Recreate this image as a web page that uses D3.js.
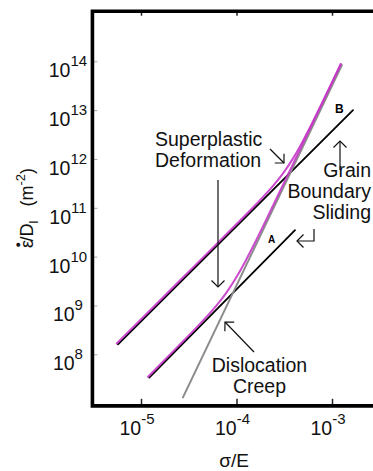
<!DOCTYPE html>
<html>
<head>
<meta charset="utf-8">
<script src="https://cdn.jsdelivr.net/npm/d3@7"></script>
<style>
  html, body { margin: 0; padding: 0; background: #fff; }
  svg { display: block; font-family: "Liberation Sans", Arial, sans-serif; }
</style>
</head>
<body>
<svg id="chart" width="373" height="471"></svg>
<script>
// Decade ticks on both axes
const xTickValues = [1e-5, 1e-4, 1e-3];
const xTickExponents = ["-5", "-4", "-3"];
const yTickValues = [1e8, 1e9, 1e10, 1e11, 1e12, 1e13, 1e14];
const yTickExponents = ["8", "9", "10", "11", "12", "13", "14"];

// Grain boundary sliding, line B (fine grains) and line A (coarse grains)
const gbsB_x = [5.74e-6, 1.66e-3];
const gbsB_y = [1.60e8, 1.0e13];
const gbsA_x = [1.22e-5, 4.10e-4];
const gbsA_y = [3.33e7, 3.48e10];

// Dislocation creep
const creep_x = [2.75e-5, 1.27e-3];
const creep_y = [1.31e7, 8.36e13];

// Superplastic deformation: combined rate for each grain size
const superB_x = [5.74e-6, 1.585e-5, 3.98e-5, 1.0e-4, 1.585e-4, 2.51e-4, 3.16e-4, 3.98e-4, 5.01e-4, 6.31e-4, 7.94e-4, 1.0e-3, 1.27e-3];
const superB_y = [1.60e8, 1.159e9, 6.97e9, 4.20e10, 1.042e11, 2.75e11, 4.85e11, 9.51e11, 2.09e12, 4.98e12, 1.239e13, 3.13e13, 8.38e13];
const superA_x = [1.22e-5, 2.51e-5, 3.98e-5, 5.01e-5, 6.31e-5, 7.94e-5, 1.0e-4, 1.26e-4, 1.585e-4, 2.51e-4, 3.98e-4, 6.31e-4, 1.0e-3, 1.27e-3];
const superA_y = [3.33e7, 1.39e8, 3.50e8, 5.65e8, 9.42e8, 1.679e9, 3.33e9, 7.36e9, 1.758e10, 1.109e11, 7.24e11, 4.74e12, 3.11e13, 8.36e13];

// Plot frame extents in data units
const xFrame = [3.1e-6, 4.2e-3];
const yFrame = [8.8e6, 1.06e15];

const svg = d3.select("#chart");

const x = d3.scaleLog().domain([1e-5, 1e-3]).range([141, 332]);
const y = d3.scaleLog().domain([1e8, 1e14]).range([354.3, 61.3]);

const xL = x(xFrame[0]), xR = x(xFrame[1]);
const yB = y(yFrame[0]), yT = y(yFrame[1]);

const zip = (a, b) => a.map((v, i) => [v, b[i]]);
const straight = d3.line().x(d => x(d[0])).y(d => y(d[1]));
const smooth = d3.line().x(d => x(d[0])).y(d => y(d[1])).curve(d3.curveMonotoneX);

// Mechanism lines
const lines = svg.append("g").attr("fill", "none").attr("stroke-linecap", "round");
lines.append("path").attr("d", straight(zip(gbsB_x, gbsB_y))).attr("stroke", "#000").attr("stroke-width", 1.8);
lines.append("path").attr("d", straight(zip(gbsA_x, gbsA_y))).attr("stroke", "#000").attr("stroke-width", 1.8);
lines.append("path").attr("d", straight(zip(creep_x, creep_y))).attr("stroke", "#8c8c8c").attr("stroke-width", 2);

// Superplastic curves on top
const sp = lines.append("g").attr("transform", "translate(-1.2,-0.9)");
sp.append("path").attr("d", smooth(zip(superB_x, superB_y))).attr("stroke", "#c636c8").attr("stroke-width", 2).attr("opacity", 0.9);
sp.append("path").attr("d", smooth(zip(superA_x, superA_y))).attr("stroke", "#c636c8").attr("stroke-width", 2).attr("opacity", 0.9);

// Axes
function styleAxis(g) {
  g.attr("font-family", null).attr("font-size", null);
  g.select(".domain").remove();
}

const gLeft = svg.append("g").attr("transform", `translate(${xL},0)`)
  .call(d3.axisLeft(y).tickValues(yTickValues).tickSizeInner(-5).tickSizeOuter(0).tickFormat(""))
  .call(styleAxis);
gLeft.selectAll(".tick line").attr("stroke", "#aaa").attr("stroke-width", 1);
gLeft.selectAll(".tick text").each(function (d, i) {
  const t = d3.select(this).attr("x", -24.5).attr("y", 15.5).attr("dy", null)
    .attr("text-anchor", "middle").attr("font-size", 19.5).attr("fill", "#111").text(null);
  t.append("tspan").text("10");
  t.append("tspan").attr("dy", -11).attr("font-size", 15).text(yTickExponents[i]);
});

const gBottom = svg.append("g").attr("transform", `translate(0,${yB})`)
  .call(d3.axisBottom(x).tickValues(xTickValues).tickSizeInner(-7).tickSizeOuter(0).tickFormat(""))
  .call(styleAxis);
gBottom.selectAll(".tick line").attr("stroke", "#222").attr("stroke-width", 1.5);
gBottom.selectAll(".tick text").each(function (d, i) {
  const t = d3.select(this).attr("x", -4.5).attr("y", 29.5).attr("dy", null)
    .attr("text-anchor", "middle").attr("font-size", 19.5).attr("fill", "#111").text(null);
  t.append("tspan").text("10");
  t.append("tspan").attr("dy", -11).attr("font-size", 15).text(xTickExponents[i]);
});

const gTop = svg.append("g").attr("transform", `translate(0,${yT})`)
  .call(d3.axisTop(x).tickValues(xTickValues).tickSizeInner(-4.5).tickSizeOuter(0).tickFormat(""))
  .call(styleAxis);
gTop.selectAll(".tick line").attr("stroke", "#222").attr("stroke-width", 1.5);

// Frame (open to the right)
svg.append("path")
  .attr("d", `M${xR},${yT}H${xL}V${yB}H${xR}`)
  .attr("fill", "none").attr("stroke", "#000").attr("stroke-width", 3.6)
  .attr("stroke-linejoin", "miter");

// Axis titles
const yTitle = svg.append("text")
  .attr("transform", `translate(33,208) rotate(-90)`)
  .attr("text-anchor", "middle").attr("font-size", 18).attr("fill", "#111");
yTitle.append("tspan").text("ε");
yTitle.append("tspan").attr("dx", -7.5).attr("dy", -12).attr("font-size", 9).text("●");
yTitle.append("tspan").attr("dx", 0.5).attr("dy", 12).text("/D");
yTitle.append("tspan").attr("dy", 5).attr("font-size", 13).text("l");
yTitle.append("tspan").attr("dy", -5).attr("dx", 14).text("(m");
yTitle.append("tspan").attr("dy", -8).attr("font-size", 13).text("-2");
yTitle.append("tspan").attr("dy", 8).text(")");

svg.append("text").attr("x", 234).attr("y", 467).attr("text-anchor", "middle")
  .attr("font-size", 19).attr("fill", "#111").text("σ/E");

// Annotations
const notes = [
  { text: "Superplastic", x: 1.40e-5, y: 1.845e12, anchor: "start" },
  { text: "Deformation", x: 1.40e-5, y: 6.86e11, anchor: "start" },
  { text: "Grain", x: 2.56e-3, y: 4.28e11, anchor: "end" },
  { text: "Boundary", x: 2.56e-3, y: 1.589e11, anchor: "end" },
  { text: "Sliding", x: 2.56e-3, y: 5.90e10, anchor: "end" },
  { text: "Dislocation", x: 1.74e-4, y: 4.34e7, anchor: "middle" },
  { text: "Creep", x: 1.74e-4, y: 1.64e7, anchor: "middle" }
];
svg.append("g").selectAll("text").data(notes).join("text")
  .attr("x", d => x(d.x)).attr("y", d => y(d.y))
  .attr("text-anchor", d => d.anchor)
  .attr("font-size", 19.5).attr("fill", "#111")
  .text(d => d.text);

const tags = [
  { text: "B", x: 1.075e-3, y: 8.75e12, size: 12 },
  { text: "A", x: 2.137e-4, y: 1.90e10, size: 10 }
];
svg.append("g").selectAll("text").data(tags).join("text")
  .attr("x", d => x(d.x)).attr("y", d => y(d.y))
  .attr("font-size", d => d.size).attr("font-weight", "bold").attr("fill", "#000")
  .text(d => d.text);

// Open arrowheads
svg.append("defs").append("marker")
  .attr("id", "head").attr("viewBox", "-10 -10 20 20")
  .attr("markerWidth", 20).attr("markerHeight", 20)
  .attr("markerUnits", "userSpaceOnUse").attr("orient", "auto")
  .append("path").attr("d", "M-6.5,-6.5L0,0L-6.5,6.5")
  .attr("fill", "none").attr("stroke", "#111").attr("stroke-width", 1.2);

const arrows = [
  [[2.243e-4, 1.60e12], [3.143e-4, 8.26e11]],
  [[6.40e-5, 3.71e11], [6.40e-5, 2.39e9]],
  [[1.213e-3, 5.94e11], [1.213e-3, 2.33e12]],
  [[6.48e-4, 3.68e10], [6.48e-4, 2.09e10], [4.30e-4, 2.09e10]],
  [[1.525e-4, 1.114e8], [7.58e-5, 4.58e8]]
];
svg.append("g").selectAll("path").data(arrows).join("path")
  .attr("d", d => straight(d))
  .attr("fill", "none").attr("stroke", "#111").attr("stroke-width", 1.2)
  .attr("marker-end", "url(#head)");
</script>
</body>
</html>
